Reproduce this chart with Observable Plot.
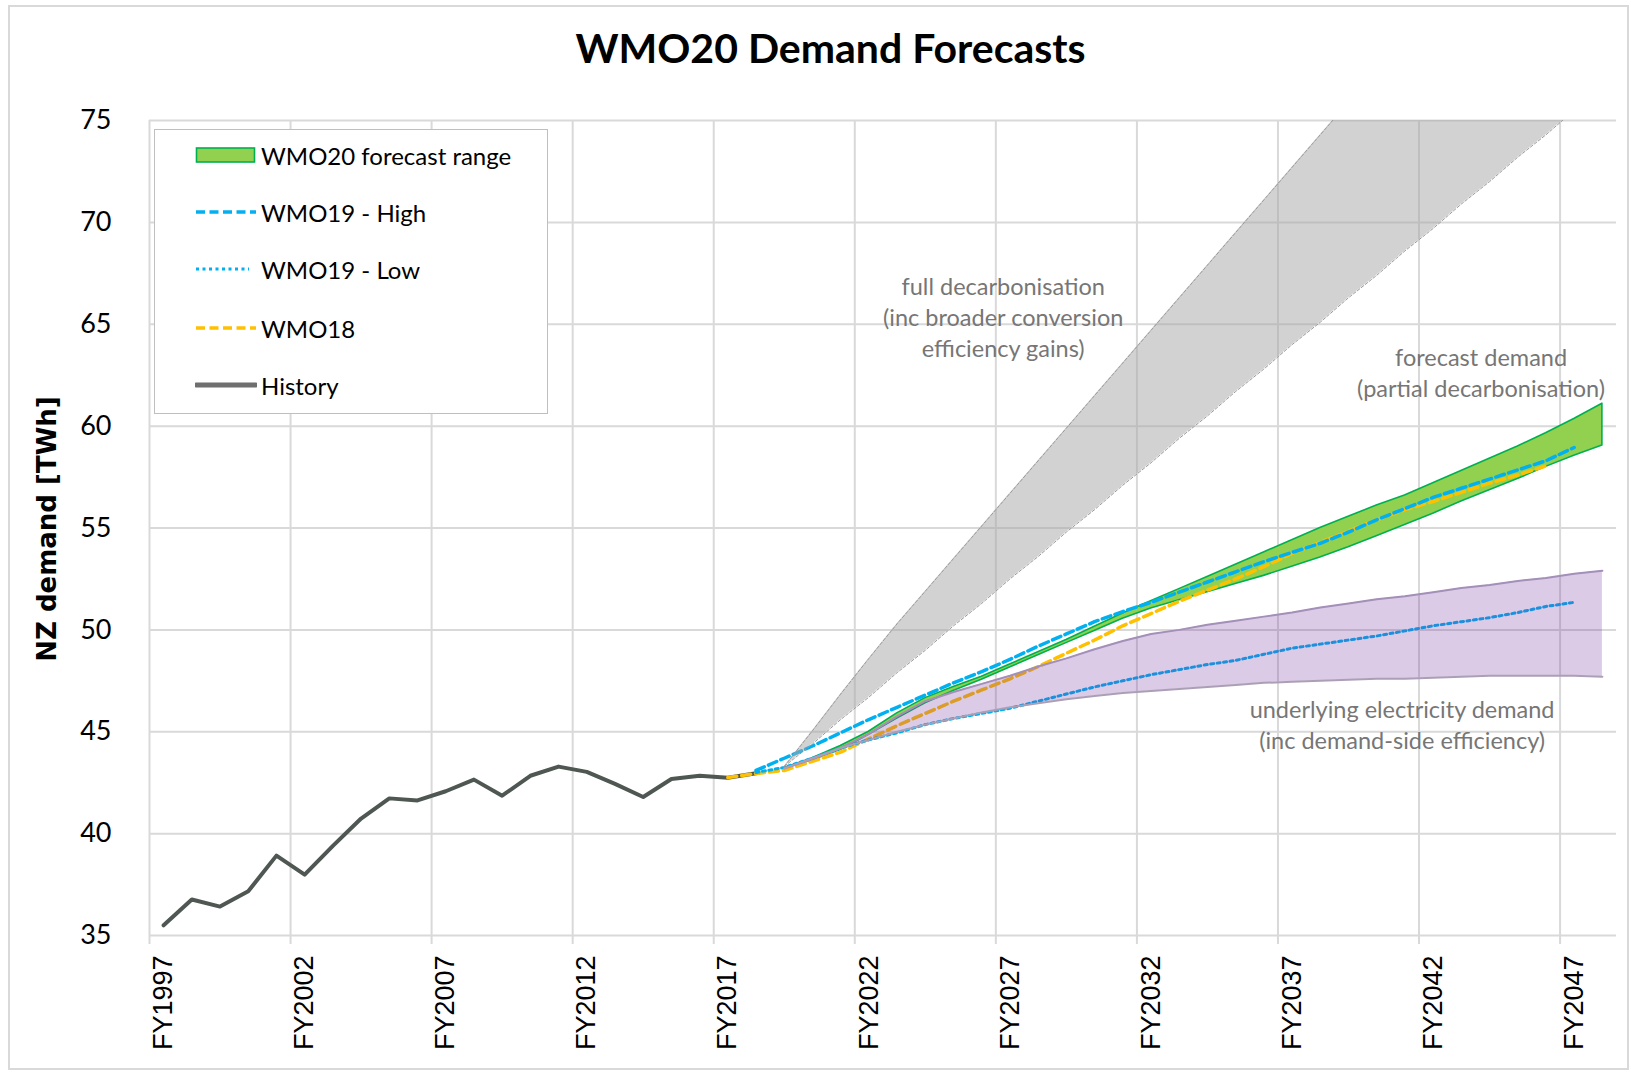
<!DOCTYPE html>
<html>
<head>
<meta charset="utf-8">
<script src="https://cdn.jsdelivr.net/npm/d3@7"></script>
<script src="https://cdn.jsdelivr.net/npm/@observablehq/plot@0.6"></script>
<style>
  body { margin: 0; background: #fff; }
  #wrap { position: relative; width: 1631px; height: 1072px; overflow: hidden; background: #fff; }
  #frame { position: absolute; left: 8px; top: 5px; width: 1621px; height: 1065px; border: 2px solid #d9d9d9; box-sizing: border-box; }
  #chart { position: absolute; left: 0; top: 0; }
  #title { position: absolute; left: 15px; width: 1631px; top: 27px; text-align: center; font-family: Lato, sans-serif; font-weight: 700; font-size: 41px; line-height: 41px; color: #000; white-space: nowrap; }
  #ylabel { position: absolute; left: 47px; top: 529px; transform: translate(-50%, -50%) rotate(-90deg); font-family: "DejaVu Sans", sans-serif; font-weight: 700; font-size: 26px; white-space: nowrap; color: #000; }
  #legend { position: absolute; left: 154px; top: 129px; width: 394px; height: 285px; background: #fff; border: 1.5px solid #bfbfbf; box-sizing: border-box; font-family: Lato, sans-serif; font-size: 24px; color: #000; }
  .item { position: absolute; left: 40px; height: 30px; display: flex; align-items: center; }
  .item svg { width: 62px; height: 20px; }
  .item span { margin-left: 4px; white-space: nowrap; }
</style>
</head>
<body>
<div id="wrap">
  <div id="frame"></div>
  <div id="chart"></div>
  <div id="title">WMO20 Demand Forecasts</div>
  <div id="ylabel">NZ demand [TWh]</div>
  <div id="legend"></div>
</div>
<script>
// ---------- data ----------
const histYears = [1997,1998,1999,2000,2001,2002,2003,2004,2005,2006,2007,2008,2009,2010,2011,2012,2013,2014,2015,2016,2017,2018];
const histTWh   = [35.5,36.77,36.42,37.17,38.92,37.99,39.4,40.74,41.73,41.63,42.08,42.65,41.86,42.84,43.29,43.03,42.44,41.8,42.68,42.84,42.74,42.96];

const bandYears = [2019,2020,2021,2022,2023,2024,2025,2026,2027,2028,2029,2030,2031,2032,2033,2034,2035,2036,2037,2038,2039,2040,2041,2042,2043,2044,2045,2046,2047,2048];
const fullDecarbHigh = [43.3,45.05,46.85,48.6,50.3,51.9,53.5,55.1,56.7,58.3,59.9,61.5,63.1,64.7,66.3,67.9,69.5,71.1,72.7,74.3,75.9,77.5,79.1,80.7,82.3,83.9,85.5,87.1,88.7,90.3];
const fullDecarbLow  = [43.3,44.4,45.6,46.7,47.9,49.0,50.2,51.3,52.5,53.6,54.8,55.9,57.1,58.2,59.4,60.5,61.7,62.8,64.0,65.1,66.3,67.4,68.6,69.7,70.9,72.0,73.2,74.3,75.5,76.6];
const wmo20High = [43.2,43.7,44.3,45.0,45.9,46.65,47.2,47.7,48.3,48.9,49.5,50.15,50.8,51.4,52.0,52.6,53.2,53.8,54.4,55.0,55.55,56.1,56.6,57.2,57.8,58.4,59.0,59.65,60.35,61.1];
const wmo20Low  = [43.2,43.6,44.1,44.85,45.65,46.4,47.0,47.55,48.15,48.75,49.35,49.95,50.55,51.05,51.45,51.85,52.25,52.65,53.1,53.55,54.05,54.6,55.15,55.7,56.3,56.85,57.4,58.0,58.55,59.05];
const underlyingHigh = [43.2,43.65,44.2,44.9,45.75,46.5,46.95,47.35,47.75,48.2,48.6,49.05,49.45,49.8,50.0,50.25,50.45,50.65,50.85,51.1,51.3,51.5,51.65,51.85,52.05,52.2,52.4,52.55,52.75,52.9];
const underlyingLow  = [43.2,43.7,44.2,44.6,45.0,45.35,45.65,45.95,46.2,46.4,46.6,46.75,46.9,47.0,47.1,47.2,47.3,47.4,47.45,47.5,47.55,47.6,47.6,47.65,47.7,47.75,47.75,47.75,47.75,47.7];

const wmo19Years = [2018,2019,2020,2021,2022,2023,2024,2025,2026,2027,2028,2029,2030,2031,2032,2033,2034,2035,2036,2037,2038,2039,2040,2041,2042,2043,2044,2045,2046,2047];
const wmo19High = [43.1,43.7,44.3,44.95,45.6,46.2,46.8,47.4,47.95,48.55,49.2,49.8,50.4,50.9,51.35,51.85,52.35,52.85,53.35,53.8,54.25,54.8,55.4,55.95,56.5,56.95,57.4,57.85,58.3,58.95];
const wmo19Low  = [43.0,43.25,43.7,44.2,44.6,44.95,45.35,45.65,45.9,46.15,46.5,46.85,47.2,47.5,47.8,48.05,48.3,48.5,48.8,49.1,49.3,49.5,49.7,49.95,50.2,50.4,50.6,50.85,51.15,51.35];

const wmo18Years = [2017,2018,2019,2020,2021,2022,2023,2024,2025,2026,2027,2028,2029,2030,2031,2032,2033,2034,2035,2036,2037,2038,2039,2040,2041,2042,2043,2044,2045,2046];
const wmo18 = [42.75,42.95,43.1,43.55,44.0,44.65,45.3,45.9,46.5,47.05,47.6,48.2,48.85,49.5,50.2,50.8,51.4,51.95,52.5,53.1,53.75,54.3,54.85,55.4,55.9,56.3,56.75,57.2,57.6,58.05];

const yTicks = [35,40,45,50,55,60,65,70,75];
const xTickYears = [1997,2002,2007,2012,2017,2022,2027,2032,2037,2042,2047];
const xTickLabels = ["FY1997","FY2002","FY2007","FY2012","FY2017","FY2022","FY2027","FY2032","FY2037","FY2042","FY2047"];
const categoryBoundaries = [1996.5,2001.5,2006.5,2011.5,2016.5,2021.5,2026.5,2031.5,2036.5,2041.5,2046.5];

const annotations = [
  {year: 2026.76, value: 65.42, label: "full decarbonisation\n(inc broader conversion\nefficiency gains)"},
  {year: 2043.7, value: 62.7, label: "forecast demand\n(partial decarbonisation)"},
  {year: 2040.9, value: 45.4, label: "underlying electricity demand\n(inc demand-side efficiency)"}
];

const legendItems = [
  {label: "WMO20 forecast range", kind: "rect"},
  {label: "WMO19 - High", kind: "dash", color: "#00B0F0"},
  {label: "WMO19 - Low", kind: "dot", color: "#00B0F0"},
  {label: "WMO18", kind: "dash", color: "#FFC000"},
  {label: "History", kind: "solid", color: "#6f6f6f"}
];

// ---------- tables ----------
const series = (ys, vs) => ys.map((year, i) => ({year, v: vs[i]}));
const band = (ys, lo, hi) => ys.map((year, i) => ({year, lo: lo[i], hi: hi[i]}));
const history = series(histYears, histTWh);
const fullDecarb = band(bandYears, fullDecarbLow, fullDecarbHigh);
const wmo20 = band(bandYears, wmo20Low, wmo20High);
const underlying = band(bandYears, underlyingLow, underlyingHigh);
const w19h = series(wmo19Years, wmo19High);
const w19l = series(wmo19Years, wmo19Low);
const w18 = series(wmo18Years, wmo18);
const labelOf = new Map(xTickYears.map((y, i) => [y, xTickLabels[i]]));

const chart = Plot.plot({
  width: 1631,
  height: 1072,
  marginLeft: 149,
  marginRight: 15,
  marginTop: 120,
  marginBottom: 137,
  style: {background: "transparent", color: "#000", fontFamily: "Lato, sans-serif"},
  x: {type: "linear", domain: [1996.5, 2048.5]},
  y: {domain: [35, 75]},
  marks: [
    Plot.ruleY(yTicks, {stroke: "#d9d9d9", strokeWidth: 2}),
    Plot.ruleX(categoryBoundaries, {stroke: "#d9d9d9", strokeWidth: 2, insetBottom: -9}),
    Plot.axisY({ticks: yTicks, tickSize: 0, tickPadding: 38, fontSize: 27, fontFamily: "Lato, sans-serif", label: null}),
    Plot.axisX({ticks: xTickYears, tickFormat: d => labelOf.get(d), tickRotate: -90, tickSize: 0, tickPadding: 20, fontSize: 27, fontFamily: "Liberation Sans, Arial, sans-serif", label: null}),
    Plot.areaY(wmo20, {x: "year", y1: "lo", y2: "hi", fill: "#92D050", stroke: "#00B050", strokeWidth: 1.6}),
    Plot.lineY(history, {x: "year", y: "v", stroke: "#4f5753", strokeWidth: 4}),
    Plot.lineY(w18, {x: "year", y: "v", stroke: "#FFC000", strokeWidth: 3.5, strokeDasharray: "9,5"}),
    Plot.lineY(w19h, {x: "year", y: "v", stroke: "#00B0F0", strokeWidth: 3.5, strokeDasharray: "9,4.5"}),
    Plot.lineY(w19l, {x: "year", y: "v", stroke: "#00B0F0", strokeWidth: 3, strokeDasharray: "3,3.5"}),
    Plot.areaY(fullDecarb, {x: "year", y1: "lo", y2: "hi", fill: "#a6a6a6", fillOpacity: 0.5, clip: true}),
    Plot.lineY(fullDecarb, {x: "year", y: "hi", stroke: "#9a9a9a", strokeWidth: 1, strokeDasharray: "3,2", clip: true}),
    Plot.lineY(fullDecarb, {x: "year", y: "lo", stroke: "#9a9a9a", strokeWidth: 1, strokeDasharray: "3,2", clip: true}),
    Plot.areaY(underlying, {x: "year", y1: "lo", y2: "hi", fill: "#7030A0", fillOpacity: 0.25}),
    Plot.lineY(underlying, {x: "year", y: "hi", stroke: "#a38fb8", strokeWidth: 2}),
    Plot.lineY(underlying, {x: "year", y: "lo", stroke: "#ab9fb5", strokeWidth: 2}),
    Plot.text(annotations, {x: "year", y: "value", text: "label", fill: "#767676", fontSize: 23.5, fontFamily: "Lato, sans-serif", lineHeight: 1.32, textAnchor: "middle", lineAnchor: "middle"})
  ]
});
document.getElementById("chart").appendChild(chart);

// ---------- legend ----------
const legend = document.getElementById("legend");
const rowTops = [10, 67, 124, 183, 240];
legendItems.forEach((it, i) => {
  const div = document.createElement("div");
  div.className = "item";
  div.style.top = rowTops[i] + "px";
  let sw;
  if (it.kind === "rect") {
    sw = `<rect x="1.5" y="3" width="58" height="14" fill="#92D050" stroke="#00B050" stroke-width="1.6"/>`;
  } else if (it.kind === "dash") {
    sw = `<line x1="1" x2="61" y1="10" y2="10" stroke="${it.color}" stroke-width="3.5" stroke-dasharray="9,4.5"/>`;
  } else if (it.kind === "dot") {
    sw = `<line x1="1" x2="54" y1="10" y2="10" stroke="${it.color}" stroke-width="3" stroke-dasharray="3,3.5"/>`;
  } else {
    sw = `<line x1="1" x2="61" y1="10" y2="10" stroke="${it.color}" stroke-width="5" stroke-linecap="round"/>`;
  }
  div.innerHTML = `<svg viewBox="0 0 62 20">${sw}</svg><span>${it.label}</span>`;
  legend.appendChild(div);
});
</script>
</body>
</html>
